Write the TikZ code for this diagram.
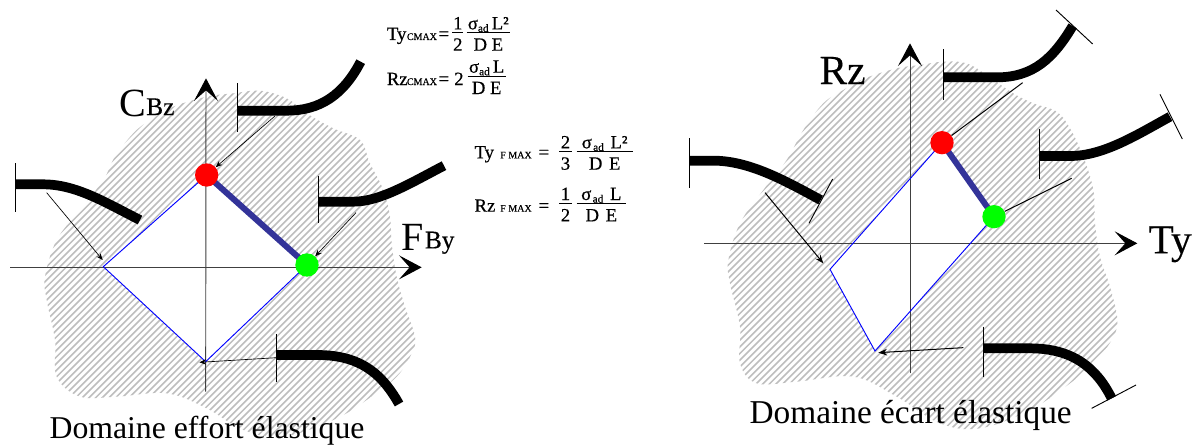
\documentclass[tikz,border=0pt]{standalone}
\usepackage{fontspec}
\setmainfont{Liberation Serif}
\newfontfamily\eqfont[FakeBold=0.5]{Liberation Serif}
\newfontfamily\lblfont[FakeBold=0.3]{Liberation Serif}
\usetikzlibrary{arrows.meta,calc}
\definecolor{hatchgray}{RGB}{190,190,190}
\definecolor{segblue}{RGB}{51,51,153}
\definecolor{dotgreen}{RGB}{0,255,0}
\tikzset{
  hatchline/.style={hatchgray,line width=1.15pt},
  axisline/.style={black!75,line width=0.7pt,-{Stealth[length=17pt,width=18pt,inset=8pt,color=black]}},
  domainedge/.style={blue,line width=0.7pt,line join=miter},
  criticalseg/.style={segblue,line width=4.5pt},
  stemcurve/.style={black,line width=7.3pt},
  stemtick/.style={black,line width=0.7pt},
  leader/.style={black,line width=0.5pt,-{Stealth[length=5pt,width=4pt]}},
  leaderbold/.style={black,line width=0.75pt,-{Stealth[length=6.5pt,width=5pt]}},
  leaderplain/.style={black,line width=0.75pt},
  reddot/.style={circle,fill=red,inner sep=0pt,minimum size=17.5pt},
  greendot/.style={circle,fill=dotgreen,inner sep=0pt,minimum size=17.5pt},
  eq/.style={inner sep=0pt,font=\fontsize{14}{16}\eqfont},
  eqsub/.style={inner sep=0pt,font=\fontsize{7.5}{9}\eqfont},
  biglabel/.style={inner sep=0pt,font=\fontsize{30}{32}\selectfont,anchor=base west},
  midlabel/.style={inner sep=0pt,font=\fontsize{19}{22}\lblfont,anchor=base west},
  rlabel/.style={inner sep=0pt,font=\fontsize{31}{34}\lblfont,anchor=base west},
  caption/.style={inner sep=0pt,font=\fontsize{23.8}{26}\selectfont,anchor=base west},
  captionb/.style={inner sep=0pt,font=\fontsize{25}{28}\selectfont,anchor=base west},
  fracbar/.style={black,line width=0.7pt}
}
\newcommand{\frc}[6]{%
  \coordinate (#1l) at (#2,#4);
  \coordinate (#1r) at (#3,#4);
  \draw[fracbar] (#1l) -- (#1r);
  \node[eq,anchor=base] (#1n) at ([yshift=2.5pt]$(#1l)!.5!(#1r)$) {#5};
  \node[eq,anchor=base] (#1d) at ([yshift=-13.5pt]$(#1l)!.5!(#1r)$) {#6};
}
\newcommand{\sigad}{σ\raisebox{-2pt}{\fontsize{8.5}{9}\eqfont ad}}
\begin{document}
\begin{tikzpicture}[x=0.75pt,y=-0.75pt]
\useasboundingbox (0,0) rectangle (1193,446);
\fill[white] (0,0) rectangle (1193,446);
% ---------- left diagram
\begin{scope}[x=0.25pt,y=-0.25pt]
  \begin{scope}
    \clip plot[smooth cycle,tension=0.6] coordinates {(520,320)(620,290)(700,280)(780,272)(860,295)(920,340)(1000,385)(1080,420)(1110,490)(1150,570)(1170,650)(1175,730)(1190,830)(1215,920)(1245,1010)(1235,1060)(1190,1130)(1100,1200)(1000,1260)(850,1310)(730,1290)(620,1225)(500,1180)(350,1190)(240,1190)(170,1130)(165,1020)(140,900)(135,830)(170,720)(240,630)(310,540)(345,470)(400,400)(450,360)};
    \foreach \i in {-1400,-1380,...,2000} \draw[hatchline] (\i,1400) -- ++(1400,-1400) ;
  \end{scope}
  \coordinate (lW) at (310,800);
  \coordinate (lN) at (620,525);
  \coordinate (lE) at (921,795);
  \coordinate (lS) at (617,1085);
  \fill[white] (lW) -- (lN) -- (lE) -- (lS) -- cycle;
  \coordinate (lXa) at (30,802);
  \coordinate (lXb) at (1265,802);
  \coordinate (lYa) at (617,1175);
  \coordinate (lYb) at (618,235);
  \draw[axisline] (lXa) -- (lXb);
  \draw[axisline] (lYa) -- (lYb);
  \draw[domainedge] (lN) -- (lW) -- (lS) -- (lE);
  \draw[criticalseg] (lN) -- (lE);
  % curves
  \coordinate (c1a) at (47,553); \coordinate (c1b) at (420,660);
  \draw[stemcurve] (c1a) -- (130,553) .. controls (230,553) and (320,610) .. (c1b);
  \coordinate (t1a) at (47,490); \coordinate (t1b) at (47,635);
  \draw[stemtick] (t1a) -- (t1b);
  \coordinate (c2a) at (712,332); \coordinate (c2b) at (1082,185);
  \draw[stemcurve] (c2a) -- (860,332) .. controls (960,332) and (1030,285) .. (c2b);
  \coordinate (t2a) at (712,250); \coordinate (t2b) at (712,395);
  \draw[stemtick] (t2a) -- (t2b);
  \coordinate (c3a) at (955,605); \coordinate (c3b) at (1332,497);
  \draw[stemcurve] (c3a) -- (1060,605) .. controls (1140,605) and (1230,550) .. (c3b);
  \coordinate (t3a) at (955,527); \coordinate (t3b) at (955,670);
  \draw[stemtick] (t3a) -- (t3b);
  \coordinate (c4a) at (830,1065); \coordinate (c4b) at (1197,1212);
  \draw[stemcurve] (c4a) -- (950,1065) .. controls (1070,1065) and (1140,1110) .. (c4b);
  \coordinate (t4a) at (830,1002); \coordinate (t4b) at (830,1145);
  \draw[stemtick] (t4a) -- (t4b);
  % leaders
  \node[reddot] (lred) at (lN) {};
  \node[greendot] (lgreen) at (lE) {};
  \coordinate (a1) at (140,578); \coordinate (a1e) at (308,780);
  \draw[leader] (a1) -- (a1e);
  \coordinate (a2) at (825,348);
  \draw[leader] (a2) -- (lred);
  \coordinate (a3) at (1068,638);
  \draw[leader] (a3) -- (lgreen);
  \coordinate (a4) at (830,1073); \coordinate (a4e) at (598,1087);
  \draw[leader] (a4) -- (a4e);
  % labels
  \node[biglabel] (lC) at (358,350) {C};
  \node[midlabel] (lBz) at (438,345) {Bz};
  \node[biglabel] (lF) at (1205,750) {F};
  \node[midlabel] (lBy) at (1274,745) {By};
  \node[caption] (lcap) at (148,1314) {Domaine effort élastique};
\end{scope}
% ---------- right diagram
\begin{scope}[x=0.25pt,y=-0.25pt,xshift=510pt]
  \begin{scope}
    \clip plot[smooth cycle,tension=0.6] coordinates {(555,235)(650,205)(720,195)(790,185)(860,190)(920,225)(1000,280)(1060,310)(1130,335)(1170,385)(1210,470)(1240,570)(1245,670)(1260,770)(1290,860)(1312,960)(1295,1020)(1240,1090)(1170,1150)(1050,1230)(900,1285)(780,1270)(650,1190)(520,1130)(350,1145)(230,1150)(180,1090)(180,980)(150,850)(145,780)(180,670)(250,570)(320,480)(370,390)(430,310)(490,270)};
    \foreach \i in {-1400,-1380,...,2000} \draw[hatchline] (\i,1400) -- ++(1400,-1400);
  \end{scope}
  \coordinate (rW) at (450,808);
  \coordinate (rN) at (786,428);
  \coordinate (rE) at (942,650);
  \coordinate (rS) at (585,1053);
  \fill[white] (rW) -- (rN) -- (rE) -- (rS) -- cycle;
  \coordinate (rXa) at (72,730);
  \coordinate (rXb) at (1372,730);
  \coordinate (rYa) at (690,1120);
  \coordinate (rYb) at (690,130);
  \draw[axisline] (rXa) -- (rXb);
  \draw[axisline] (rYa) -- (rYb);
  \draw[domainedge] (rN) -- (rW) -- (rS) -- (rE);
  \draw[criticalseg] (rN) -- (rE);
  % curves
  \coordinate (d1a) at (790,232); \coordinate (d1b) at (1178,78);
  \draw[stemcurve] (d1a) -- (950,232) .. controls (1060,232) and (1120,175) .. (d1b);
  \coordinate (u1a) at (790,148); \coordinate (u1b) at (790,300);
  \draw[stemtick] (u1a) -- (u1b);
  \coordinate (v1a) at (1128,30); \coordinate (v1b) at (1238,132);
  \draw[stemtick] (v1a) -- (v1b);
  \coordinate (d2a) at (1078,468); \coordinate (d2b) at (1470,350);
  \draw[stemcurve] (d2a) -- (1170,468) .. controls (1270,468) and (1370,405) .. (d2b);
  \coordinate (u2a) at (1078,387); \coordinate (u2b) at (1078,537);
  \draw[stemtick] (u2a) -- (u2b);
  \coordinate (v2a) at (1440,283); \coordinate (v2b) at (1507,417);
  \draw[stemtick] (v2a) -- (v2b);
  \coordinate (d3a) at (27,482); \coordinate (d3b) at (422,600);
  \draw[stemcurve] (d3a) -- (100,482) .. controls (210,482) and (320,545) .. (d3b);
  \coordinate (u3a) at (27,415); \coordinate (u3b) at (27,565);
  \draw[stemtick] (u3a) -- (u3b);
  \coordinate (v3a) at (458,537); \coordinate (v3b) at (387,670);
  \draw[stemtick] (v3a) -- (v3b);
  \coordinate (d4a) at (910,1045); \coordinate (d4b) at (1295,1195);
  \draw[stemcurve] (d4a) -- (1050,1045) .. controls (1180,1045) and (1250,1105) .. (d4b);
  \coordinate (u4a) at (910,980); \coordinate (u4b) at (910,1130);
  \draw[stemtick] (u4a) -- (u4b);
  \coordinate (v4a) at (1235,1225); \coordinate (v4b) at (1368,1155);
  \draw[stemtick] (v4a) -- (v4b);
  % leaders
  \node[reddot] (rred) at (rN) {};
  \node[greendot] (rgreen) at (rE) {};
  \coordinate (b2) at (1028,248);
  \draw[leaderplain] (b2) -- (rred);
  \coordinate (b3) at (1175,535);
  \draw[leaderplain] (b3) -- (rgreen);
  \coordinate (b1) at (255,578); \coordinate (b1e) at (430,790);
  \draw[leaderbold] (b1) -- (b1e);
  \coordinate (b4) at (850,1043); \coordinate (b4e) at (595,1058);
  \draw[leaderbold] (b4) -- (b4e);
  % labels
  \node[rlabel] (rRz) at (418,252) {Rz};
  \node[rlabel] (rTy) at (1405,760) {Ty};
  \node[captionb] (rcap) at (208,1270) {Domaine écart élastique};
\end{scope}
% ---------- formulas
\begin{scope}[x=0.25pt,y=-0.25pt,xshift=277.5pt,yshift=-7.5pt]
  \node[eq,anchor=base west] (e1) at (50,90) {Ty};
  \node[eqsub,anchor=base west] (e1s) at (110,90) {CMAX};
  \node[eq,anchor=base west] (e1q) at (205,90) {=};
  \frc{fa}{247}{280}{68}{1}{2}
  \frc{fb}{290}{420}{68}{\sigad\,L²}{D E}
  \node[eq,anchor=base west] (e2) at (50,225) {Rz};
  \node[eqsub,anchor=base west] (e2s) at (110,225) {CMAX};
  \node[eq,anchor=base west] (e2q) at (205,225) {=};
  \node[eq,anchor=base west] (e2n) at (252,225) {2};
  \frc{fc}{293}{407}{198}{\sigad\,L}{D E}
  \node[eq,anchor=base west] (e3) at (313,445) {Ty};
  \node[eqsub,anchor=base west] (e3s) at (390,445) {F MAX};
  \node[eq,anchor=base west] (e3q) at (505,445) {=};
  \frc{fd}{568}{605}{425}{2}{3}
  \frc{fe}{620}{788}{425}{σ\hspace{1pt}\raisebox{-2pt}{\fontsize{8.5}{9}\eqfont ad}\hspace{5pt}L²}{D\hspace{5pt}E}
  \node[eq,anchor=base west] (e4) at (313,605) {Rz};
  \node[eqsub,anchor=base west] (e4s) at (390,605) {F MAX};
  \node[eq,anchor=base west] (e4q) at (505,605) {=};
  \frc{ff}{568}{605}{580}{1}{2}
  \frc{fg}{620}{768}{580}{σ\hspace{1pt}\raisebox{-2pt}{\fontsize{8.5}{9}\eqfont ad}\hspace{5pt}L}{D\hspace{5pt}E}
\end{scope}
\end{tikzpicture}
\end{document}
